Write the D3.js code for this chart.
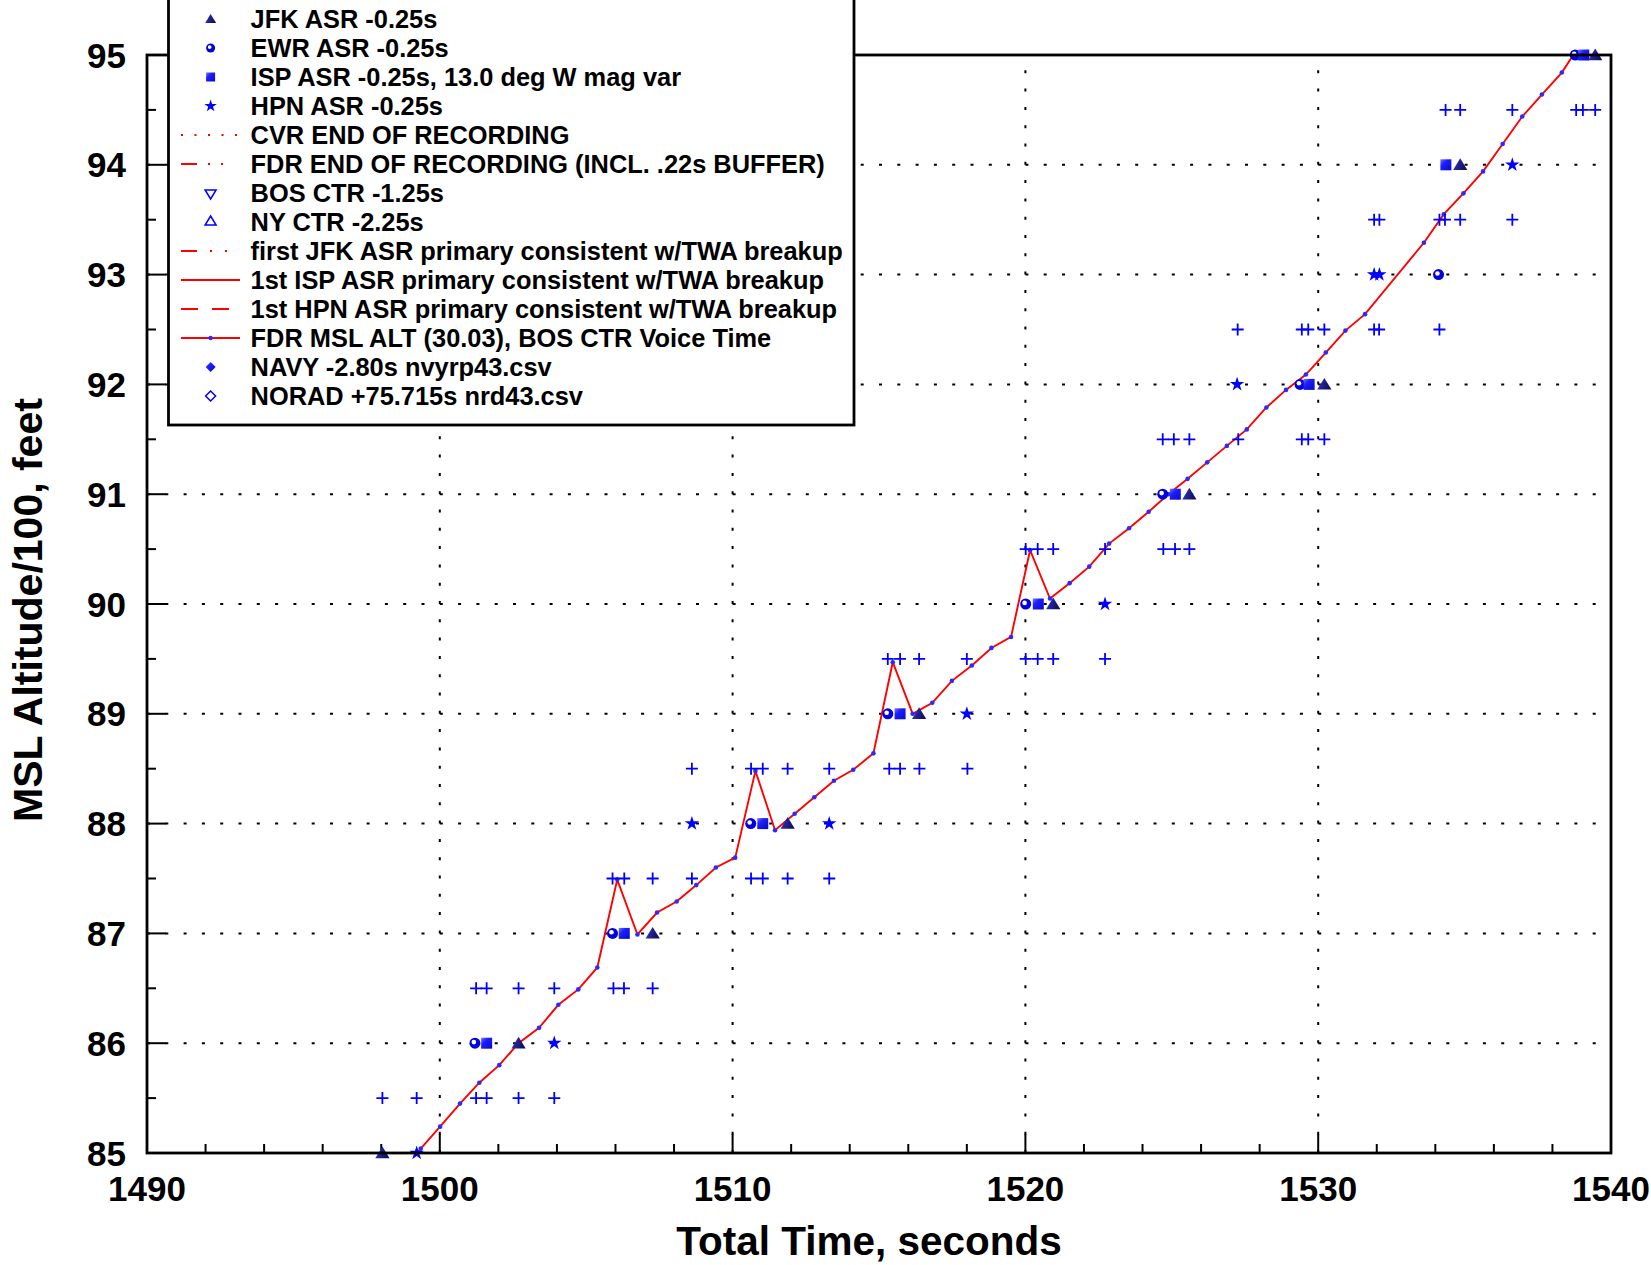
<!DOCTYPE html>
<html>
<head>
<meta charset="utf-8">
<script src="https://d3js.org/d3.v7.min.js"></script>
<style>
  body { margin: 0; background: #fff; }
  text { font-family: "Liberation Sans", Arial, sans-serif; font-weight: bold; }
</style>
</head>
<body>
<script>
// FDR altitude trace (time s, altitude/100 ft)
var fdrTime = [1498.68,1499.35,1500.01,1500.69,1501.35,1502.03,1502.69,1503.39,1504.05,1504.73,1505.38,
  1506.06,1506.75,1507.42,1508.09,1508.76,1509.43,1510.09,1510.78,1511.45,1512.12,1512.79,1513.46,
  1514.12,1514.81,1515.47,1516.15,1516.82,1517.49,1518.17,1518.84,1519.51,1520.16,1520.84,1521.51,
  1522.18,1522.86,1523.54,1524.21,1524.88,1525.54,1526.21,1526.88,1527.56,1528.23,1528.90,1529.58,
  1530.26,1530.93,1531.60,1533.61,1534.29,1534.96,1535.63,1536.30,1536.97,1537.64,1538.32,1538.71,1538.99];
var fdrAlt = [84.85,85.04,85.24,85.45,85.64,85.80,86.00,86.14,86.35,86.49,86.69,
  87.49,86.99,87.19,87.29,87.44,87.60,87.69,88.48,87.94,88.09,88.24,88.39,
  88.49,88.64,89.47,89.00,89.10,89.30,89.44,89.60,89.70,90.49,90.05,90.19,
  90.34,90.55,90.69,90.84,91.00,91.14,91.29,91.44,91.59,91.79,91.95,92.09,
  92.29,92.49,92.64,93.29,93.55,93.74,93.94,94.19,94.44,94.64,94.84,95.00,95.04];

// radar returns
var jfkTime = [1498.04,1502.69,1507.27,1511.88,1516.37,1520.95,1525.60,1530.21,1534.85,1539.46];
var jfkAlt  = [85,86,87,88,89,90,91,92,94,95];
var ewrTime = [1501.20,1505.90,1510.62,1515.30,1520.01,1524.69,1529.38,1534.11,1538.78];
var ewrAlt  = [86,87,88,89,90,91,92,93,95];
var ispTime = [1501.60,1506.30,1511.03,1515.72,1520.44,1525.12,1529.69,1534.36,1539.07];
var ispAlt  = [86,87,88,89,90,91,92,94,95];
var hpnTime = [1499.21,1503.91,1508.61,1513.30,1518.00,1522.72,1527.23,1531.91,1532.09,1536.63];
var hpnAlt  = [85,86,88,88,89,90,92,93,93,94];

// +/- 50 ft marks
var plusTime = [
  1498.04,1499.21,1501.24,1501.60,1502.69,1503.91,
  1501.24,1501.60,1502.69,1503.91,1505.93,1506.29,1507.27,
  1505.90,1506.30,1507.27,1508.61,1510.63,1511.03,1511.88,1513.30,
  1508.61,1510.63,1511.03,1511.88,1513.30,1515.35,1515.72,1516.38,1518.02,
  1515.30,1515.72,1516.37,1518.00,1520.01,1520.42,1520.95,1522.72,
  1520.01,1520.42,1520.95,1522.72,1524.71,1525.11,1525.60,
  1524.69,1525.07,1525.60,1527.27,1529.44,1529.66,1530.21,
  1527.25,1529.44,1529.66,1530.21,1531.91,1532.08,1534.14,
  1531.91,1532.09,1534.14,1534.33,1534.85,1536.63,
  1534.35,1534.85,1536.63,1538.81,1539.04,1539.46];
var plusAlt = [
  85.5,85.5,85.5,85.5,85.5,85.5,
  86.5,86.5,86.5,86.5,86.5,86.5,86.5,
  87.5,87.5,87.5,87.5,87.5,87.5,87.5,87.5,
  88.5,88.5,88.5,88.5,88.5,88.5,88.5,88.5,88.5,
  89.5,89.5,89.5,89.5,89.5,89.5,89.5,89.5,
  90.5,90.5,90.5,90.5,90.5,90.5,90.5,
  91.5,91.5,91.5,91.5,91.5,91.5,91.5,
  92.5,92.5,92.5,92.5,92.5,92.5,92.5,
  93.5,93.5,93.5,93.5,93.5,93.5,
  94.5,94.5,94.5,94.5,94.5,94.5];

var xTicks = [1490,1500,1510,1520,1530,1540];
var yTicks = [85,86,87,88,89,90,91,92,93,94,95];

var legendLabels = [
  "JFK ASR -0.25s",
  "EWR ASR -0.25s",
  "ISP ASR -0.25s, 13.0 deg W mag var",
  "HPN ASR -0.25s",
  "CVR END OF RECORDING",
  "FDR END OF RECORDING (INCL. .22s BUFFER)",
  "BOS CTR -1.25s",
  "NY CTR -2.25s",
  "first JFK ASR primary consistent w/TWA breakup",
  "1st ISP ASR primary consistent w/TWA breakup",
  "1st HPN ASR primary consistent w/TWA breakup",
  "FDR MSL ALT (30.03), BOS CTR Voice Time",
  "NAVY -2.80s nvyrp43.csv",
  "NORAD +75.715s nrd43.csv"
];
var legendKind = ["tri","circ","sq","star","dot","fdrEnd","downOpen","upOpen","jfkLine","solid","dash","fdr","diamond","diamondOpen"];

var W = 1651, H = 1265;
var L = 147, R = 1611, T = 55, B = 1153;

var x = d3.scaleLinear().domain([1490,1540]).range([L,R]);
var y = d3.scaleLinear().domain([85,95]).range([B,T]);

var svg = d3.select("body").append("svg").attr("width",W).attr("height",H);

var defs = svg.append("defs");
defs.append("clipPath").attr("id","plotclip")
  .append("rect").attr("x",L).attr("y",T).attr("width",R-L).attr("height",B-T);
var g1 = defs.append("linearGradient").attr("id","triGrad").attr("x1",0).attr("y1",0).attr("x2",1).attr("y2",0.3);
g1.append("stop").attr("offset","0").attr("stop-color","#5b5bd6");
g1.append("stop").attr("offset","0.45").attr("stop-color","#23239a");
g1.append("stop").attr("offset","1").attr("stop-color","#101060");
var g2 = defs.append("linearGradient").attr("id","sqGrad").attr("x1",0).attr("y1",0).attr("x2",1).attr("y2",1);
g2.append("stop").attr("offset","0").attr("stop-color","#7878ff");
g2.append("stop").attr("offset","0.35").attr("stop-color","#1e1eff");
g2.append("stop").attr("offset","1").attr("stop-color","#0808c8");

// grid
var grid = svg.append("g").attr("stroke","#000").attr("stroke-width",2).attr("stroke-dasharray","3,15.3");
grid.selectAll(".gy").data(d3.range(86,95)).enter().append("line")
  .attr("x1",L).attr("x2",R).attr("y1",d=>y(d)).attr("y2",d=>y(d));
grid.selectAll(".gx").data([1500,1510,1520,1530]).enter().append("line")
  .attr("y1",B).attr("y2",T).attr("x1",d=>x(d)).attr("x2",d=>x(d));

// ticks
var ticks = svg.append("g").attr("stroke","#000").attr("stroke-width",2);
ticks.selectAll(".tx").data(d3.range(1490,1541,2)).enter().append("line")
  .attr("x1",d=>x(d)).attr("x2",d=>x(d)).attr("y1",B)
  .attr("y2",d=> d%10===0 ? B-19 : B-9);
ticks.selectAll(".ty").data(d3.range(85,95.01,0.5)).enter().append("line")
  .attr("y1",d=>y(d)).attr("y2",d=>y(d)).attr("x1",L)
  .attr("x2",d=> d%1===0 ? L+19 : L+9);

// FDR line
var line = d3.line().x((d,i)=>x(fdrTime[i])).y((d,i)=>y(fdrAlt[i]));
svg.append("path").datum(fdrTime).attr("d",line).attr("clip-path","url(#plotclip)")
  .attr("fill","none").attr("stroke","#ff0000").attr("stroke-width",1.9);
svg.append("g").attr("clip-path","url(#plotclip)").selectAll("circle").data(fdrTime).enter().append("circle")
  .attr("cx",d=>x(d)).attr("cy",(d,i)=>y(fdrAlt[i])).attr("r",2.3).attr("fill","#2a2aff");

// marker shapes
function plusPath(s){ return "M"+(-s)+",0H"+s+"M0,"+(-s)+"V"+s; }
function triPath(s){ return "M0,"+(-s)+"L"+(s*1.1)+","+(s*0.8)+"L"+(-s*1.1)+","+(s*0.8)+"Z"; }
function downTriPath(s){ return "M0,"+s+"L"+(s*1.1)+","+(-s*0.8)+"L"+(-s*1.1)+","+(-s*0.8)+"Z"; }
function sqPath(s){ return "M"+(-s)+","+(-s)+"H"+s+"V"+s+"H"+(-s)+"Z"; }
function diaPath(s){ return "M0,"+(-s)+"L"+s+",0L0,"+s+"L"+(-s)+",0Z"; }
var starPath = function(sz){ return d3.symbol().type(d3.symbolStar).size(sz)(); };

function drawCircle(gg, cx, cy, r){
  gg.append("circle").attr("cx",cx).attr("cy",cy).attr("r",r).attr("fill","#0000e0");
  gg.append("circle").attr("cx",cx-r*0.2).attr("cy",cy-r*0.2).attr("r",r*0.42).attr("fill","#fff");
}

var marks = svg.append("g");
marks.selectAll(".plus").data(plusTime).enter().append("path")
  .attr("transform",(d,i)=>"translate("+x(d)+","+y(plusAlt[i])+")")
  .attr("d",plusPath(6)).attr("stroke","#0000ff").attr("stroke-width",1.8).attr("fill","none");
ewrTime.forEach(function(t,i){ drawCircle(marks, x(t), y(ewrAlt[i]), 5.5); });
marks.selectAll(".sq").data(ispTime).enter().append("path")
  .attr("transform",(d,i)=>"translate("+x(d)+","+y(ispAlt[i])+")")
  .attr("d",sqPath(5.5)).attr("fill","url(#sqGrad)");
marks.selectAll(".tri").data(jfkTime).enter().append("path")
  .attr("transform",(d,i)=>"translate("+x(d)+","+y(jfkAlt[i])+")")
  .attr("d",triPath(6.5)).attr("fill","url(#triGrad)");
marks.selectAll(".star").data(hpnTime).enter().append("path")
  .attr("transform",(d,i)=>"translate("+x(d)+","+y(hpnAlt[i])+")")
  .attr("d",starPath(65)).attr("fill","#0000ff");

// frame
svg.append("rect").attr("x",L).attr("y",T).attr("width",R-L).attr("height",B-T)
  .attr("fill","none").attr("stroke","#000").attr("stroke-width",2.8);

// tick labels
svg.selectAll(".xl").data(xTicks).enter().append("text")
  .attr("x",d=>x(d)).attr("y",1201).attr("text-anchor","middle")
  .attr("font-size",35).text(d=>d);
svg.selectAll(".yl").data(yTicks).enter().append("text")
  .attr("x",126).attr("y",d=>y(d)+12.5).attr("text-anchor","end")
  .attr("font-size",35).text(d=>d);

// axis titles
svg.append("text").attr("x",(L+R)/2 - 10).attr("y",1255).attr("text-anchor","middle")
  .attr("font-size",40.5).text("Total Time, seconds");
svg.append("text").attr("transform","translate(42,"+((T+B)/2+6)+") rotate(-90)")
  .attr("text-anchor","middle").attr("font-size",41).text("MSL Altitude/100, feet");

// legend
var lg = svg.append("g");
lg.append("rect").attr("x",168.5).attr("y",-10).attr("width",685.5).attr("height",435)
  .attr("fill","#fff").attr("stroke","#000").attr("stroke-width",2.8);
var lx0 = 181, lx1 = 240, mx = 210.6, tx = 250.6;
legendLabels.forEach(function(lab,i){
  var cy = 19 + i*29.0;
  var k = legendKind[i];
  var red = function(dash){
    var ln = lg.append("line").attr("x1",lx0).attr("x2",lx1).attr("y1",cy).attr("y2",cy)
      .attr("stroke","#ff0000").attr("stroke-width",2);
    if(dash) ln.attr("stroke-dasharray",dash);
  };
  if(k==="tri") lg.append("path").attr("transform","translate("+mx+","+cy+")").attr("d",triPath(5)).attr("fill","url(#triGrad)");
  if(k==="circ") drawCircle(lg, mx, cy, 4.5);
  if(k==="sq") lg.append("path").attr("transform","translate("+mx+","+cy+")").attr("d",sqPath(4.5)).attr("fill","url(#sqGrad)");
  if(k==="star") lg.append("path").attr("transform","translate("+mx+","+cy+")").attr("d",starPath(48)).attr("fill","#0000ff");
  if(k==="dot") red("2,11.5");
  if(k==="fdrEnd") red("16,11,2,11,2,20");
  if(k==="downOpen") lg.append("path").attr("transform","translate("+mx+","+(cy+1)+")").attr("d",downTriPath(5)).attr("fill","none").attr("stroke","#0000ff").attr("stroke-width",1.5);
  if(k==="upOpen") lg.append("path").attr("transform","translate("+mx+","+(cy-1)+")").attr("d",triPath(5)).attr("fill","none").attr("stroke","#0000ff").attr("stroke-width",1.5);
  if(k==="jfkLine") red("16,13,2,13,2,20");
  if(k==="solid") red(null);
  if(k==="dash") red("17,14");
  if(k==="fdr"){ red(null); lg.append("circle").attr("cx",mx).attr("cy",cy).attr("r",2.2).attr("fill","#2a2aff"); }
  if(k==="diamond") lg.append("path").attr("transform","translate("+mx+","+cy+")").attr("d",diaPath(5)).attr("fill","url(#sqGrad)");
  if(k==="diamondOpen") lg.append("path").attr("transform","translate("+mx+","+cy+")").attr("d",diaPath(5)).attr("fill","none").attr("stroke","#0000ff").attr("stroke-width",1.5);
  lg.append("text").attr("x",tx).attr("y",cy+9).attr("font-size",25.4).text(lab);
});
</script>
</body>
</html>
